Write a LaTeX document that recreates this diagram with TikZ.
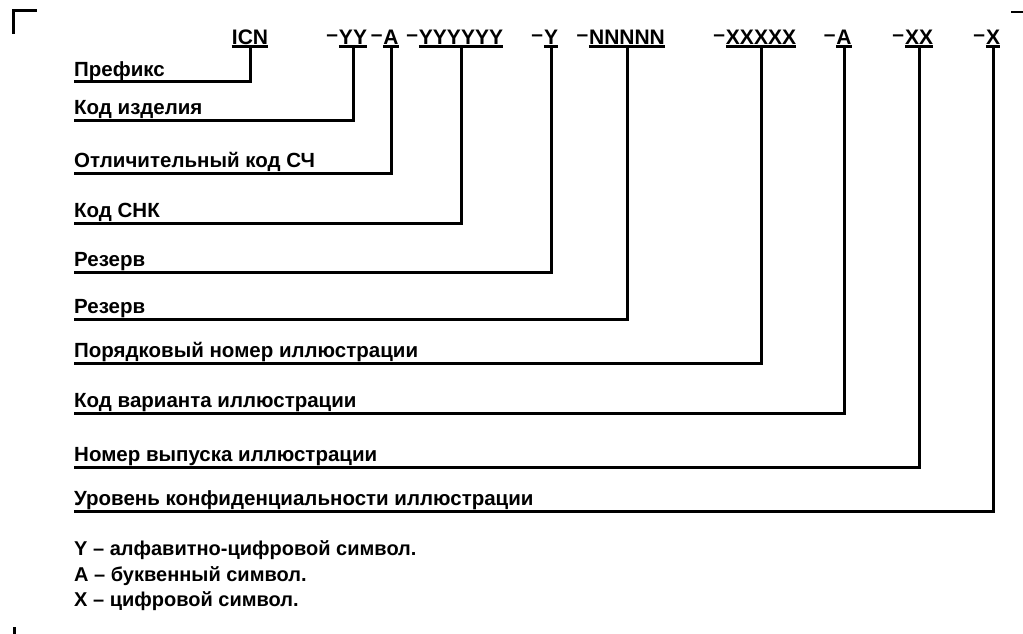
\documentclass[tikz,border=0pt]{standalone}
\usepackage{fontspec}
\setmainfont{Liberation Sans}
\begin{document}
\begin{tikzpicture}[x=1pt, y=-1pt,
    code/.style={anchor=south, inner sep=0pt, text depth=2pt, font=\fontsize{21}{21}\selectfont\bfseries},
    dashlbl/.style={inner sep=0.5pt, font=\fontsize{21}{21}\selectfont\bfseries},
    lbl/.style={anchor=south west, inner sep=0pt, text depth=5.5pt, font=\fontsize{20.5}{20.5}\selectfont\bfseries},
    note/.style={anchor=base west, inner sep=0pt, font=\fontsize{20}{20}\selectfont\bfseries},
    conn/.style={line width=3pt},
    uline/.style={line width=3pt},
    cropmark/.style={line width=3pt}]
    \useasboundingbox (0,0) rectangle (1023,634);
    % crop marks
    \draw[cropmark] (13,34) |- (37,11);
    \draw[line width=2pt] (1011,12) -- (1023,12);
    \draw[cropmark] (14,627) -- (14,634);
    % code
    \node[code] (icn) at (250,47) {ICN};
    \node[code, label={[dashlbl]left:--}] (yy) at (353,47) {YY};
    \node[code, label={[dashlbl]left:--}] (a1) at (391,47) {A};
    \node[code, label={[dashlbl]left:--}] (y6) at (461,47) {YYYYYY};
    \node[code, label={[dashlbl]left:--}] (y1) at (551,47) {Y};
    \node[code, label={[dashlbl]left:--}] (n5) at (627,47) {NNNNN};
    \node[code, label={[dashlbl]left:--}] (x5) at (761,47) {XXXXX};
    \node[code, label={[dashlbl]left:--}] (a2) at (844,47) {A};
    \node[code, label={[dashlbl]left:--}] (x2) at (919,47) {XX};
    \node[code, label={[dashlbl]left:--}] (x1) at (993,47) {X};
    \foreach \c in {icn,yy,a1,y6,y1,n5,x5,a2,x2,x1}
        \draw[uline] (\c.south west) -- (\c.south east);
    % labels
    \node[lbl] (pref) at (74,82) {Префикс};
    \node[lbl] (izd) at (74,120) {Код изделия};
    \node[lbl] (sch) at (74,173) {Отличительный код СЧ};
    \node[lbl] (snk) at (74,223) {Код СНК};
    \node[lbl] (rez1) at (74,272) {Резерв};
    \node[lbl] (rez2) at (74,319) {Резерв};
    \node[lbl] (nom) at (74,363) {Порядковый номер иллюстрации};
    \node[lbl] (var) at (74,413) {Код варианта иллюстрации};
    \node[lbl] (vyp) at (74,467) {Номер выпуска иллюстрации};
    \node[lbl] (konf) at (74,511) {Уровень конфиденциальности иллюстрации};
    % connectors
    \draw[conn] (pref.south west) -| (icn.south);
    \draw[conn] (izd.south west) -| (yy.south);
    \draw[conn] (sch.south west) -| (a1.south);
    \draw[conn] (snk.south west) -| (y6.south);
    \draw[conn] (rez1.south west) -| (y1.south);
    \draw[conn] (rez2.south west) -| (n5.south);
    \draw[conn] (nom.south west) -| (x5.south);
    \draw[conn] (var.south west) -| (a2.south);
    \draw[conn] (vyp.south west) -| (x2.south);
    \draw[conn] (konf.south west) -| (x1.south);
    % notes
    \node[note] (n1) at (74,555) {Y -- алфавитно-цифровой символ.};
    \node[note] (n2) at (74,581) {A -- буквенный символ.};
    \node[note] (n3) at (74,606) {X -- цифровой символ.};
\end{tikzpicture}
\end{document}
